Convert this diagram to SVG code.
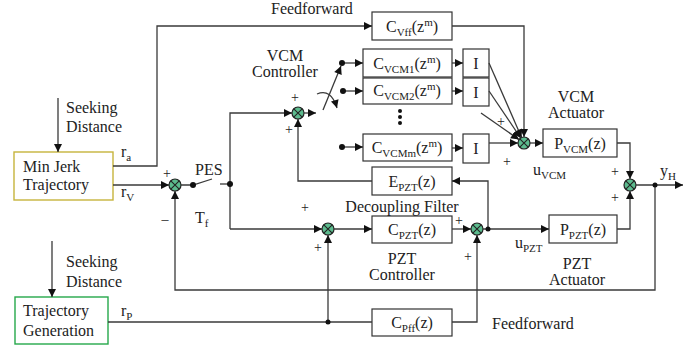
<svg xmlns="http://www.w3.org/2000/svg" width="699" height="350" viewBox="0 0 699 350" font-family="'Liberation Serif', 'Times New Roman', serif">
<defs>
<marker id="ah" viewBox="0 0 10 10" refX="10" refY="5" markerWidth="9" markerHeight="8" orient="auto" markerUnits="userSpaceOnUse"><path d="M0,0 L10,5 L0,10 z" fill="#111"/></marker>
<g id="sumg"><circle r="6" fill="#5cbb8e" stroke="#222" stroke-width="1.2"/><path d="M-4.2,-4.2 L4.2,4.2 M-4.2,4.2 L4.2,-4.2" stroke="#222" stroke-width="1.1"/></g>
</defs>
<style>
text{font-family:'Liberation Serif','Times New Roman',serif}
.t{font-size:16px;fill:#222}
.p{font-size:14px;fill:#222}
.s{font-size:11px}
.box{fill:#fff;stroke:#333;stroke-width:1.2}
.ln{fill:none;stroke:#3a3a3a;stroke-width:1.3}
.ar{fill:none;stroke:#3a3a3a;stroke-width:1.3;marker-end:url(#ah)}
.dot{fill:#111}
</style>
<rect width="699" height="350" fill="#fff"/>

<g id="minjerk"><rect x="14" y="152" width="99" height="48" fill="#fff" stroke="#c6b43c" stroke-width="1.4"/><text class="t" x="23" y="172">Min Jerk</text><text class="t" x="23" y="190">Trajectory</text></g>
<g id="trajgen"><rect x="15" y="297" width="93" height="47" fill="#fff" stroke="#25a84a" stroke-width="1.4"/><text class="t" x="23" y="316">Trajectory</text><text class="t" x="23" y="336">Generation</text></g>

<g id="cvff"><rect class="box" x="372" y="12" width="80" height="28"/><text class="t" x="412" y="32" text-anchor="middle">C<tspan class="s" dy="4">Vff</tspan><tspan dy="-4">(z</tspan><tspan class="s" dy="-6">m</tspan><tspan dy="6">)</tspan></text></g>
<g id="cvcm1"><rect class="box" x="363" y="49" width="89" height="28"/><text class="t" x="407" y="69" text-anchor="middle">C<tspan class="s" dy="4">VCM1</tspan><tspan dy="-4">(z</tspan><tspan class="s" dy="-6">m</tspan><tspan dy="6">)</tspan></text></g>
<g id="cvcm2"><rect class="box" x="363" y="78" width="89" height="26"/><text class="t" x="407" y="96" text-anchor="middle">C<tspan class="s" dy="4">VCM2</tspan><tspan dy="-4">(z</tspan><tspan class="s" dy="-6">m</tspan><tspan dy="6">)</tspan></text></g>
<g id="cvcmm"><rect class="box" x="363" y="134" width="89" height="27"/><text class="t" x="407" y="153" text-anchor="middle">C<tspan class="s" dy="4">VCMm</tspan><tspan dy="-4">(z</tspan><tspan class="s" dy="-6">m</tspan><tspan dy="6">)</tspan></text></g>
<g id="i1"><rect class="box" x="463" y="49" width="26" height="28"/><text class="t" x="476" y="69" text-anchor="middle">I</text></g>
<g id="i2"><rect class="box" x="463" y="78" width="26" height="28"/><text class="t" x="476" y="98" text-anchor="middle">I</text></g>
<g id="im"><rect class="box" x="463" y="134" width="26" height="29"/><text class="t" x="476" y="154" text-anchor="middle">I</text></g>
<g id="pvcm"><rect class="box" x="543" y="129" width="74" height="28"/><text class="t" x="580" y="149" text-anchor="middle">P<tspan class="s" dy="4">VCM</tspan><tspan dy="-4">(z)</tspan></text></g>
<g id="epzt"><rect class="box" x="372" y="167" width="80" height="28"/><text class="t" x="412" y="187" text-anchor="middle">E<tspan class="s" dy="4">PZT</tspan><tspan dy="-4">(z)</tspan></text></g>
<g id="cpzt"><rect class="box" x="372" y="216" width="80" height="27"/><text class="t" x="412" y="235" text-anchor="middle">C<tspan class="s" dy="4">PZT</tspan><tspan dy="-4">(z)</tspan></text></g>
<g id="ppzt"><rect class="box" x="549" y="215" width="68" height="28"/><text class="t" x="583" y="235" text-anchor="middle">P<tspan class="s" dy="4">PZT</tspan><tspan dy="-4">(z)</tspan></text></g>
<g id="cpff"><rect class="box" x="372" y="309" width="80" height="27"/><text class="t" x="412" y="328" text-anchor="middle">C<tspan class="s" dy="4">Pff</tspan><tspan dy="-4">(z)</tspan></text></g>

<g id="sum1"><use href="#sumg" x="175" y="185"/></g>
<g id="sumvcmc"><use href="#sumg" x="298" y="113"/></g>
<g id="sumpztc"><use href="#sumg" x="328" y="229"/></g>
<g id="sumvcm"><use href="#sumg" x="524" y="143"/></g>
<g id="sumpzt"><use href="#sumg" x="477" y="229"/></g>
<g id="sumout"><use href="#sumg" x="630" y="185"/></g>

<g id="connectors">
<path class="ar" d="M58,98 V152"/>
<path class="ar" d="M52,241 V297"/>
<path class="ar" d="M113,166 H157 V26 H372"/>
<path class="ar" d="M452,26 H524 V137"/>
<path class="ar" d="M113,185 H169"/>
<path class="ln" d="M181,185 H193 L212,179"/>
<path class="ln" d="M220,184 H230"/>
<path class="ar" d="M230,229 V113 H292"/>
<path class="ar" d="M230,229 H322"/>
<path class="ar" d="M304,113 H316"/>
<path class="ar" d="M323,110 L341,66"/>
<path class="ar" d="M317,94 Q331,88 337,108"/>
<path class="ar" d="M342,63 H363"/>
<path class="ar" d="M343,91 H363"/>
<path class="ar" d="M342,147 H363"/>
<path class="ar" d="M452,63 H463"/>
<path class="ar" d="M452,91 H463"/>
<path class="ar" d="M452,148 H463"/>
<path class="ar" d="M489,63 L521.6,137.5"/>
<path class="ar" d="M489,91 L520.7,138"/>
<path class="ar" d="M481,113 L519,139.6"/>
<path class="ar" d="M489,143 H518"/>
<path class="ar" d="M530,143 H543"/>
<path class="ar" d="M617,143 H630 V179"/>
<path class="ar" d="M617,229 H630 V191"/>
<path class="ar" d="M636,185 H683"/>
<path class="ar" d="M655,185 V290 H175 V191"/>
<path class="ar" d="M372,181 H298 V119"/>
<path class="ar" d="M334,229 H372"/>
<path class="ar" d="M452,229 H471"/>
<path class="ar" d="M483,229 H549"/>
<path class="ar" d="M488,229 V181 H452"/>
<path class="ln" d="M108,322 H372"/>
<path class="ar" d="M328,322 V235"/>
<path class="ar" d="M452,322 H477 V235"/>
<circle class="dot" cx="193" cy="185" r="3"/>
<circle class="dot" cx="230" cy="184" r="3"/>
<circle class="dot" cx="342" cy="63" r="3"/>
<circle class="dot" cx="343" cy="91" r="3"/>
<circle class="dot" cx="342" cy="147" r="3"/>
<circle class="dot" cx="488" cy="229" r="2.5"/>
<circle class="dot" cx="655" cy="185" r="2.5"/>
<circle class="dot" cx="328" cy="322" r="2.5"/>
<circle class="dot" cx="400" cy="111" r="2"/>
<circle class="dot" cx="400" cy="117" r="2"/>
<circle class="dot" cx="400" cy="123" r="2"/>
</g>

<g id="labels">
<text class="t" x="271" y="14">Feedforward</text>
<text class="t" x="66" y="113">Seeking</text>
<text class="t" x="66" y="132">Distance</text>
<text class="t" x="66" y="267">Seeking</text>
<text class="t" x="66" y="287">Distance</text>
<text class="t" x="121" y="157">r<tspan class="s" dy="4">a</tspan></text>
<text class="t" x="121" y="197">r<tspan class="s" dy="4">V</tspan></text>
<text class="t" x="121" y="316">r<tspan class="s" dy="4">P</tspan></text>
<text class="p" x="167" y="178" text-anchor="middle">+</text>
<text class="p" x="165" y="224" text-anchor="middle">–</text>
<text class="t" x="195" y="175">PES</text>
<text class="t" x="195" y="223">T<tspan class="s" dy="4">f</tspan></text>
<text class="t" x="285" y="61" text-anchor="middle" font-size="15">VCM</text>
<text class="t" x="285" y="77" text-anchor="middle" font-size="15">Controller</text>
<text class="p" x="295" y="102" text-anchor="middle">+</text>
<text class="p" x="289" y="134" text-anchor="middle">+</text>
<text class="p" x="501" y="126" text-anchor="middle">+</text>
<text class="p" x="507" y="166" text-anchor="middle">+</text>
<text class="t" x="576" y="102" text-anchor="middle" font-size="15">VCM</text>
<text class="t" x="576" y="118" text-anchor="middle" font-size="15">Actuator</text>
<text class="t" x="533" y="175">u<tspan class="s" dy="4">VCM</tspan></text>
<text class="t" x="660" y="176">y<tspan class="s" dy="4">H</tspan></text>
<text class="p" x="615" y="176" text-anchor="middle">+</text>
<text class="p" x="615" y="202" text-anchor="middle">+</text>
<text class="t" x="402" y="212" text-anchor="middle">Decoupling Filter</text>
<text class="p" x="305" y="212" text-anchor="middle">+</text>
<text class="p" x="318" y="252" text-anchor="middle">+</text>
<text class="t" x="402" y="264" text-anchor="middle" font-size="15">PZT</text>
<text class="t" x="402" y="280" text-anchor="middle" font-size="15">Controller</text>
<text class="p" x="459" y="225" text-anchor="middle">+</text>
<text class="p" x="468" y="261" text-anchor="middle">+</text>
<text class="t" x="515" y="248">u<tspan class="s" dy="4">PZT</tspan></text>
<text class="t" x="577" y="269" text-anchor="middle" font-size="15">PZT</text>
<text class="t" x="577" y="285" text-anchor="middle" font-size="15">Actuator</text>
<text class="t" x="492" y="329">Feedforward</text>
</g>
</svg>
